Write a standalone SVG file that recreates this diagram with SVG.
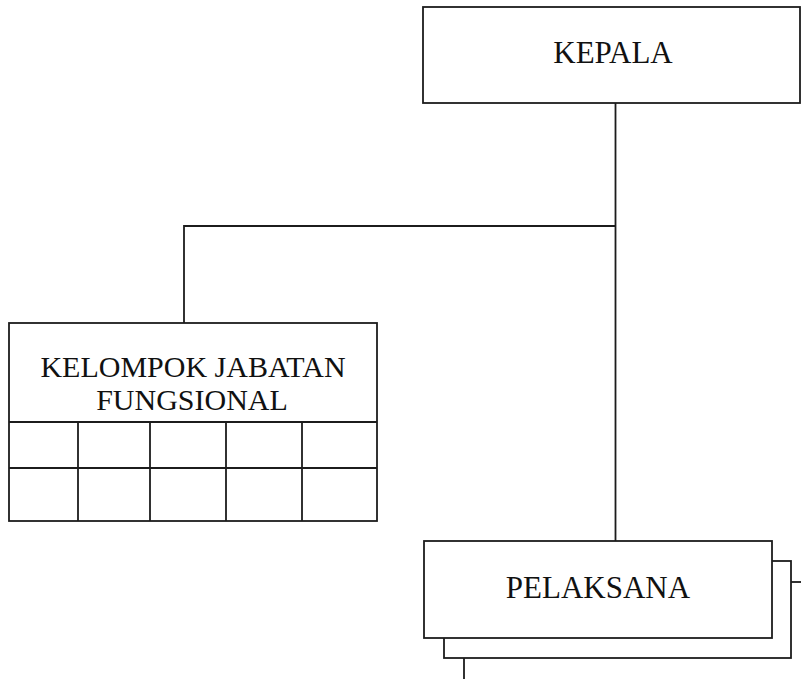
<svg xmlns="http://www.w3.org/2000/svg" width="801" height="679" viewBox="0 0 801 679">
<style>
.box{fill:#fff;stroke:#1c1c1c;stroke-width:1.8}
.ln{fill:none;stroke:#1c1c1c;stroke-width:1.8}
.t{font-family:"Liberation Serif","Times New Roman",serif;font-size:31px;fill:#111;text-anchor:middle}
.s{font-size:30px}
</style>
<rect width="801" height="679" fill="#fff"/>
<g id="connectors">
<path class="ln" d="M615.5 103 V541"/>
<path class="ln" d="M615.5 226 H184 V323"/>
</g>
<g id="kepala">
<rect class="box" x="423" y="7" width="377" height="96"/>
<text class="t" x="613" y="63">KEPALA</text>
</g>
<g id="kelompok">
<rect class="box" x="9" y="323" width="368" height="198"/>
<path class="ln" d="M9 422 H377 M9 468 H377 M78 422 V521 M150 422 V521 M226 422 V521 M302 422 V521"/>
<text class="t s" x="193" y="377">KELOMPOK JABATAN</text>
<text class="t s" x="192" y="410">FUNGSIONAL</text>
</g>
<g id="pelaksana">
<rect class="box" x="464" y="582" width="360" height="120"/>
<rect class="box" x="444" y="561" width="347" height="97"/>
<rect class="box" x="424" y="541" width="348" height="97"/>
<text class="t" x="598" y="598">PELAKSANA</text>
</g>
</svg>
